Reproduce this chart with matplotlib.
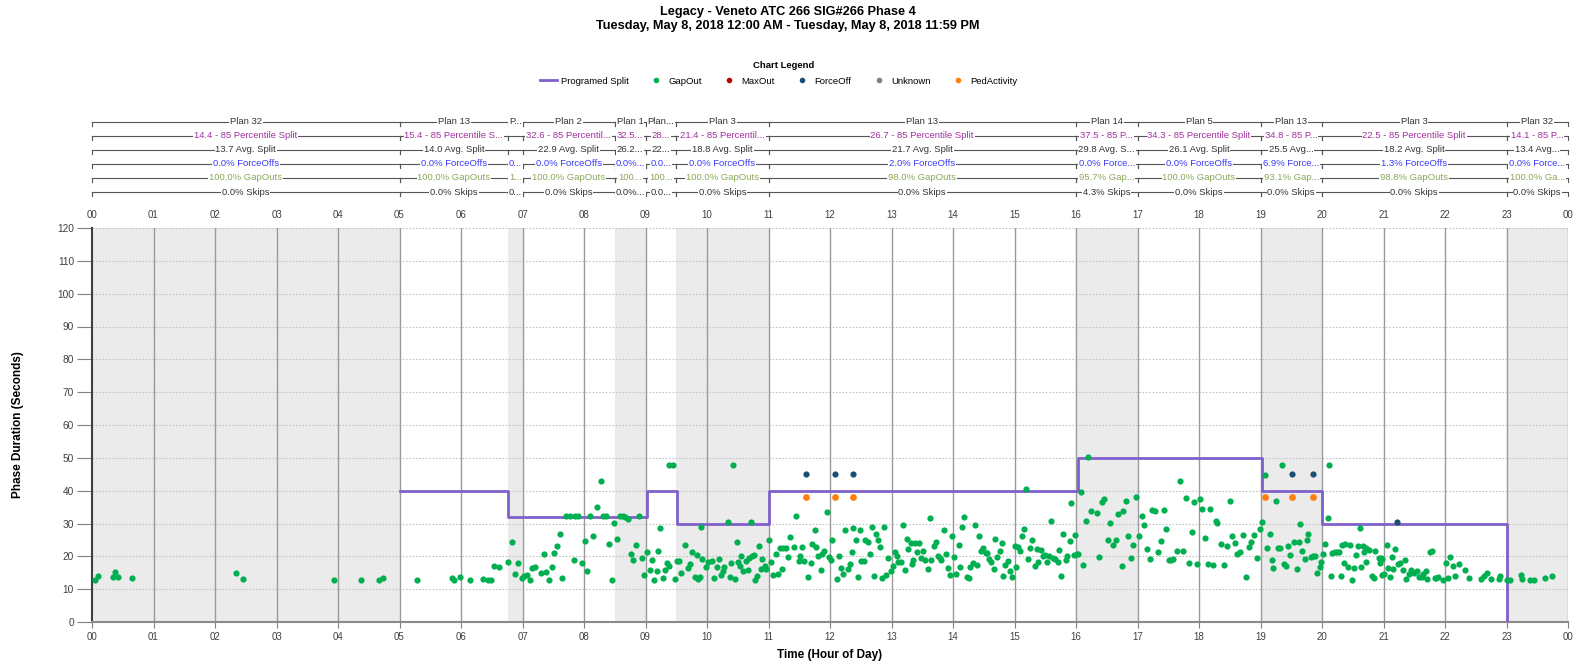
import numpy as np
import matplotlib
matplotlib.use('Agg')
import matplotlib.pyplot as plt
from matplotlib.lines import Line2D
from matplotlib.transforms import blended_transform_factory

plt.rcParams['font.family'] = ['Liberation Sans', 'DejaVu Sans']

# programmed split steps (hour, seconds)
split_t = [5.0, 6.77, 9.02, 9.51, 11.0, 16.03, 19.03, 20.0, 23.0]
split_v = [40, 32, 40, 30, 40, 50, 40, 30, 0]

# gap outs, overnight / early morning
gap_t_early = [0.05, 0.10, 0.34, 0.38, 0.43, 0.65, 2.34, 2.46, 3.93, 4.38, 4.66, 4.73, 5.28,
               5.85, 5.88, 5.98, 6.14, 6.35, 6.44, 6.48, 6.54, 6.61, 6.77, 6.83, 6.88, 6.93, 6.99]
gap_v_early = [12.9, 14.1, 13.6, 15.1, 13.6, 13.4, 15.0, 13.0, 12.9, 12.9, 12.9, 13.5, 12.9,
               13.5, 12.8, 13.6, 12.8, 13.2, 12.9, 12.8, 17.2, 16.8, 18.3, 24.4, 14.6, 17.9, 13.5]

# gap outs 07-10
gap_t_am = [7.03, 7.08, 7.12, 7.16, 7.21, 7.30, 7.35, 7.39, 7.43, 7.48, 7.52, 7.56, 7.61, 7.65,
            7.70, 7.78, 7.83, 7.86, 7.91, 7.96, 8.01, 8.05, 8.09, 8.14, 8.21, 8.27, 8.31, 8.35,
            8.40, 8.45, 8.49, 8.54, 8.58, 8.63, 8.66, 8.71, 8.76, 8.80, 8.85, 8.89, 8.94, 8.98,
            9.03, 9.07, 9.11, 9.14, 9.18, 9.21, 9.24, 9.28, 9.31, 9.35, 9.38, 9.39, 9.44, 9.48,
            9.51, 9.54, 9.58, 9.64, 9.69, 9.72, 9.75, 9.81, 9.84, 9.86, 9.89, 9.91, 9.92, 9.98]
gap_v_am = [13.9, 14.3, 12.8, 16.4, 16.8, 14.9, 20.8, 15.2, 12.8, 16.9, 21.1, 23.2, 26.9, 13.4,
            32.4, 32.4, 18.8, 32.4, 32.4, 17.9, 24.6, 15.6, 32.4, 26.3, 35.0, 42.8, 32.4, 32.4,
            23.7, 12.9, 30.1, 25.2, 32.4, 32.4, 32.1, 31.4, 20.6, 18.9, 23.3, 32.4, 19.4, 14.3,
            21.2, 15.7, 19.0, 12.8, 15.6, 21.6, 28.6, 13.5, 15.9, 18.1, 17.1, 47.8, 47.8, 13.0,
            18.5, 18.5, 14.8, 23.3, 16.3, 17.6, 21.3, 13.8, 20.5, 13.0, 13.7, 29.0, 19.3, 16.6]

# gap outs 10-13
gap_t_mid = [10.02, 10.08, 10.12, 10.16, 10.20, 10.22, 10.26, 10.28, 10.34, 10.37, 10.39, 10.42,
             10.45, 10.48, 10.51, 10.54, 10.56, 10.59, 10.63, 10.66, 10.69, 10.72, 10.73, 10.76,
             10.78, 10.82, 10.84, 10.88, 10.89, 10.94, 10.96, 11.00, 11.04, 11.08, 11.12, 11.15,
             11.18, 11.22, 11.24, 11.28, 11.31, 11.35, 11.42, 11.44, 11.49, 11.51, 11.55, 11.58,
             11.65, 11.69, 11.71, 11.75, 11.77, 11.81, 11.85, 11.87, 11.91, 11.95, 11.98, 12.02,
             12.04, 12.12, 12.15, 12.18, 12.21, 12.25, 12.29, 12.32, 12.35, 12.38, 12.42, 12.45,
             12.48, 12.51, 12.55, 12.57, 12.61, 12.65, 12.69, 12.72, 12.75, 12.78, 12.81, 12.84,
             12.88, 12.91, 12.95, 12.99, 13.02, 13.05, 13.09, 13.11, 13.15, 13.18, 13.22, 13.25,
             13.27, 13.32]
gap_v_mid = [18.2, 18.6, 13.4, 16.8, 19.3, 14.3, 15.6, 16.6, 30.4, 13.8, 18.1, 47.8,
             13.0, 24.5, 18.3, 17.1, 20.0, 15.4, 18.6, 15.9, 19.6, 30.4, 20.2, 20.5,
             12.8, 14.1, 23.1, 16.0, 19.3, 17.2, 16.1, 24.9, 18.4, 14.3, 20.8, 14.7,
             22.6, 16.1, 22.5, 22.5, 19.9, 25.8, 22.8, 32.3, 18.6, 20.0, 22.8, 18.6,
             13.8, 17.9, 23.8, 28.0, 22.8, 20.2, 15.9, 20.8, 21.5, 33.6, 19.8, 18.8,
             24.9, 13.0, 20.0, 16.4, 14.5, 28.0, 16.1, 17.6, 21.3, 28.7, 25.1, 13.8,
             28.0, 18.6, 18.6, 25.1, 24.4, 20.7, 29.0, 14.1, 26.8, 24.9, 22.8, 13.3,
             29.0, 14.3, 19.5, 15.4, 17.1, 21.4, 20.0, 18.4, 18.2, 29.5, 15.9, 25.4,
             22.3, 24.1]

# gap outs 13-17
gap_t_pm = [13.33, 13.35, 13.39, 13.42, 13.45, 13.48, 13.52, 13.55, 13.59, 13.62, 13.65, 13.69,
            13.72, 13.75, 13.79, 13.81, 13.85, 13.89, 13.92, 13.95, 13.99, 14.02, 14.05, 14.09,
            14.12, 14.15, 14.18, 14.22, 14.26, 14.28, 14.32, 14.35, 14.39, 14.42, 14.45, 14.48,
            14.53, 14.55, 14.59, 14.61, 14.66, 14.69, 14.72, 14.76, 14.79, 14.82, 14.85, 14.89,
            14.92, 14.96, 15.00, 15.03, 15.05, 15.09, 15.12, 15.16, 15.18, 15.22, 15.26, 15.29,
            15.33, 15.36, 15.39, 15.43, 15.46, 15.49, 15.53, 15.56, 15.59, 15.62, 15.66, 15.70,
            15.73, 15.76, 15.79, 15.83, 15.86, 15.90, 15.92, 15.96, 15.99, 16.01, 16.03, 16.08,
            16.11, 16.16, 16.20, 16.24, 16.34, 16.38, 16.42, 16.46, 16.52, 16.55, 16.60, 16.65,
            16.69, 16.74, 16.76, 16.81, 16.85, 16.90, 16.93, 16.98]
gap_v_pm = [17.6, 19.0, 24.0, 21.3, 24.0, 19.5, 21.7, 18.9, 16.2, 31.8, 18.9, 23.0,
            24.4, 20.1, 19.5, 18.9, 27.9, 20.7, 16.4, 14.3, 26.3, 19.7, 14.7, 23.3,
            16.7, 28.9, 32.1, 13.6, 13.5, 16.9, 17.9, 29.5, 17.4, 26.1, 21.7, 22.5,
            21.0, 21.0, 19.3, 18.2, 16.2, 25.3, 19.9, 21.5, 24.1, 14.0, 17.4, 18.6,
            15.6, 13.8, 23.1, 16.6, 22.8, 21.7, 26.2, 28.4, 40.5, 19.2, 22.4, 24.9,
            17.1, 22.3, 18.2, 22.0, 20.0, 20.5, 18.2, 20.0, 30.9, 19.5, 19.3, 18.2,
            22.0, 14.1, 26.8, 18.8, 20.2, 24.8, 36.1, 20.5, 26.6, 20.8, 20.8, 39.7,
            17.4, 30.7, 50.4, 33.8, 33.1, 19.9, 36.7, 37.4, 25.1, 30.2, 23.6, 25.1,
            32.8, 17.1, 33.8, 36.9, 26.1, 19.5, 23.6, 38.1]

# gap outs 17-20
gap_t_eve = [17.03, 17.07, 17.11, 17.16, 17.21, 17.24, 17.29, 17.34, 17.39, 17.43, 17.47, 17.51,
             17.55, 17.58, 17.65, 17.69, 17.74, 17.79, 17.83, 17.88, 17.92, 17.96, 18.01, 18.05,
             18.09, 18.14, 18.18, 18.23, 18.27, 18.30, 18.36, 18.41, 18.45, 18.50, 18.54, 18.58,
             18.62, 18.67, 18.72, 18.76, 18.81, 18.85, 18.90, 18.95, 18.99, 19.03, 19.07, 19.11,
             19.15, 19.18, 19.21, 19.26, 19.28, 19.32, 19.35, 19.39, 19.41, 19.45, 19.48, 19.54,
             19.59, 19.62, 19.65, 19.68, 19.72, 19.75, 19.78, 19.82, 19.85, 19.89, 19.92, 19.96,
             19.98, 20.02, 20.05, 20.09, 20.11, 20.15, 20.17]
gap_v_eve = [26.3, 32.2, 29.5, 22.2, 19.1, 34.1, 33.8, 21.2, 24.6, 34.1, 28.4, 19.0,
             18.8, 19.3, 21.5, 42.9, 21.5, 37.7, 17.9, 27.4, 36.4, 17.7, 37.4, 34.3,
             25.6, 17.7, 34.3, 17.3, 30.9, 30.3, 23.8, 17.3, 23.2, 36.8, 26.1, 24.1,
             20.8, 21.3, 26.5, 13.6, 22.7, 24.4, 26.6, 19.4, 28.2, 30.4, 44.9, 22.5,
             26.9, 19.0, 16.4, 37.0, 22.6, 22.4, 47.8, 17.7, 17.0, 23.0, 20.5, 24.3,
             16.1, 24.4, 29.7, 21.7, 19.3, 24.9, 26.8, 19.8, 20.0, 20.0, 15.0, 16.9,
             18.2, 20.8, 23.8, 31.6, 47.8, 14.1, 21.0]

# gap outs 20-24
gap_t_late = [20.21, 20.24, 20.27, 20.31, 20.32, 20.35, 20.38, 20.43, 20.45, 20.49, 20.52, 20.55,
              20.58, 20.61, 20.63, 20.66, 20.69, 20.71, 20.72, 20.77, 20.81, 20.84, 20.86, 20.92,
              20.94, 20.96, 20.97, 20.98, 21.01, 21.05, 21.08, 21.10, 21.14, 21.16, 21.19, 21.24,
              21.27, 21.31, 21.35, 21.37, 21.42, 21.45, 21.50, 21.54, 21.58, 21.62, 21.64, 21.69,
              21.71, 21.76, 21.79, 21.83, 21.86, 21.89, 21.97, 22.01, 22.05, 22.08, 22.13, 22.16,
              22.22, 22.32, 22.39, 22.58, 22.63, 22.68, 22.74, 22.88, 22.90, 23.01, 23.06, 23.23,
              23.26, 23.39, 23.44, 23.63, 23.74]
gap_v_late = [21.2, 21.2, 21.2, 14.0, 23.3, 18.1, 23.8, 16.9, 23.3, 12.8, 16.4, 20.5,
              23.0, 28.7, 16.6, 23.0, 21.2, 22.5, 18.2, 21.9, 14.0, 13.5, 21.5, 19.5,
              17.9, 19.5, 14.3, 19.2, 14.7, 23.6, 16.4, 13.8, 19.7, 16.2, 22.3, 17.7,
              18.0, 15.9, 18.8, 13.1, 14.7, 15.9, 14.9, 15.6, 13.6, 13.6, 14.7, 15.6,
              13.2, 21.2, 21.5, 13.5, 13.5, 13.7, 12.8, 18.1, 13.3, 19.7, 17.2, 14.1,
              17.7, 15.9, 13.5, 13.0, 14.1, 14.8, 13.0, 13.0, 14.1, 12.8, 12.8, 14.3,
              13.0, 12.8, 12.8, 13.5, 14.0]

force_t = [11.61, 12.08, 12.38, 19.51, 19.85, 21.22]
force_v = [45, 45, 45, 45, 45, 30.4]
ped_t = [11.61, 12.08, 12.38, 19.08, 19.51, 19.85]
ped_v = [38, 38, 38, 38, 38, 38]

# plan table above the chart
plan_start = [0, 5, 6.77, 7.0, 8.5, 9.0, 9.5, 11, 16, 17, 19, 20, 23]
plan_end = plan_start[1:] + [24]
plan_names = ['Plan 32', 'Plan 13', 'P...', 'Plan 2', 'Plan 1', 'Plan...', 'Plan 3', 'Plan 13',
              'Plan 14', 'Plan 5', 'Plan 13', 'Plan 3', 'Plan 32']
pct85 = ['14.4 - 85 Percentile Split', '15.4 - 85 Percentile S...', '', '32.6 - 85 Percentil...',
         '32.5...', '28...', '21.4 - 85 Percentil...', '26.7 - 85 Percentile Split',
         '37.5 - 85 P...', '34.3 - 85 Percentile Split', '34.8 - 85 P...',
         '22.5 - 85 Percentile Split', '14.1 - 85 P...']
avg_split = ['13.7 Avg. Split', '14.0 Avg. Split', '', '22.9 Avg. Split', '26.2...', '22...',
             '18.8 Avg. Split', '21.7 Avg. Split', '29.8 Avg. S...', '26.1 Avg. Split',
             '25.5 Avg...', '18.2 Avg. Split', '13.4 Avg...']
force_pct = ['0.0% ForceOffs', '0.0% ForceOffs', '0...', '0.0% ForceOffs', '0.0%...', '0.0...',
             '0.0% ForceOffs', '2.0% ForceOffs', '0.0% Force...', '0.0% ForceOffs',
             '6.9% Force...', '1.3% ForceOffs', '0.0% Force...']
gap_pct = ['100.0% GapOuts', '100.0% GapOuts', '1...', '100.0% GapOuts', '100...', '100...',
           '100.0% GapOuts', '98.0% GapOuts', '95.7% Gap...', '100.0% GapOuts', '93.1% Gap...',
           '98.8% GapOuts', '100.0% Ga...']
skip_pct = ['0.0% Skips', '0.0% Skips', '0...', '0.0% Skips', '0.0%...', '0.0...', '0.0% Skips',
            '0.0% Skips', '4.3% Skips', '0.0% Skips', '0.0% Skips', '0.0% Skips', '0.0% Skips']

hour_labels = ['%02d' % h for h in range(24)] + ['00']

W, H = 1576, 663
fig = plt.figure(figsize=(W / 100, H / 100), dpi=100)
ax = fig.add_axes([92 / W, 1 - 622 / H, (1568 - 92) / W, (622 - 228) / H])

# alternate plan shading
for i, (s, e) in enumerate(zip(plan_start, plan_end)):
    if i % 2 == 0:
        ax.axvspan(s, e, color='#ebebeb', lw=0, zorder=0)

for y in range(10, 121, 10):
    ax.axhline(y, color='#c4c4c4', lw=0.8, ls=(0, (1.5, 1.5)), zorder=1)
for h in range(1, 25):
    ax.axvline(h, color='#9a9a9a', lw=1, zorder=1)

ax.step(split_t, split_v, where='post', color='#8060cc', lw=2, zorder=3)

gap_t = gap_t_early + gap_t_am + gap_t_mid + gap_t_pm + gap_t_eve + gap_t_late
gap_v = gap_v_early + gap_v_am + gap_v_mid + gap_v_pm + gap_v_eve + gap_v_late
ax.scatter(gap_t, gap_v, s=20, color='#00b050', lw=0, zorder=4)
ax.scatter(force_t, force_v, s=20, color='#1b4f72', lw=0, zorder=4)
ax.scatter(ped_t, ped_v, s=24, color='#ff7f0e', lw=0, zorder=4)

ax.set_xlim(0, 24)
ax.set_ylim(0, 120)
ax.set_xticks(range(25))
ax.set_xticklabels(hour_labels)
ax.set_yticks(range(0, 121, 10))
ax.tick_params(axis='x', length=4, color='#808080', labelsize=7, labelcolor='#404040', pad=3)
ax.tick_params(axis='y', length=11, color='#808080', labelsize=7.3, labelcolor='#404040', pad=2)
for side in ['top', 'right']:
    ax.spines[side].set_visible(False)
ax.spines['left'].set_color('#404040')
ax.spines['left'].set_linewidth(1.5)
ax.spines['bottom'].set_color('#8a8a8a')
ax.spines['bottom'].set_linewidth(1.5)

top = ax.secondary_xaxis('top')
top.set_xticks(range(25))
top.set_xticklabels(hour_labels)
top.tick_params(length=0, labelsize=7, labelcolor='#404040', pad=6)
top.spines['top'].set_visible(False)

ax.set_xlabel('Time (Hour of Day)', fontsize=8.5, fontweight='bold')
ax.set_ylabel('Phase Duration (Seconds)', fontsize=8.5, fontweight='bold')
ax.xaxis.set_label_coords(0.5, -(649 - 622) / (622 - 228))
ax.yaxis.set_label_coords(-(92 - 24) / (1568 - 92), 0.5)

# plan table rows
tr = blended_transform_factory(ax.transData, fig.transFigure)
rows = [plan_names, pct85, avg_split, force_pct, gap_pct, skip_pct]
row_colors = ['#333333', '#a0309c', '#333333', '#3b3bf5', '#8aa858', '#333333']
row_px = [122, 136, 150, 164, 178, 192]
tick = 4 / H
for labels, col, py in zip(rows, row_colors, row_px):
    y = 1 - py / H
    for s, e, lab in zip(plan_start, plan_end, labels):
        ax.plot([s, e], [y, y], color='#555555', lw=0.8, transform=tr, clip_on=False)
        ax.plot([s, s], [y, y - tick], color='#555555', lw=0.8, transform=tr, clip_on=False)
        ax.plot([e, e], [y, y - tick], color='#555555', lw=0.8, transform=tr, clip_on=False)
        if lab:
            ax.text((s + e) / 2, y, lab, transform=tr, ha='center', va='center', fontsize=6.8,
                    color=col, clip_on=False,
                    bbox=dict(facecolor='white', edgecolor='none', pad=0.6))

fig.text(0.5, 1 - 12 / H, 'Legacy - Veneto ATC 266 SIG#266 Phase 4', ha='center', va='center',
         fontsize=9.2, fontweight='bold')
fig.text(0.5, 1 - 26 / H, 'Tuesday, May 8, 2018 12:00 AM - Tuesday, May 8, 2018 11:59 PM',
         ha='center', va='center', fontsize=9.2, fontweight='bold')
fig.text(0.497, 1 - 66 / H, 'Chart Legend', ha='center', va='center', fontsize=6.8,
         fontweight='bold')

handles = [Line2D([], [], color='#8060cc', lw=2),
           Line2D([], [], ls='none', marker='o', ms=3, color='#00b050'),
           Line2D([], [], ls='none', marker='o', ms=3, color='#c00000'),
           Line2D([], [], ls='none', marker='o', ms=3, color='#1b4f72'),
           Line2D([], [], ls='none', marker='o', ms=3, color='#808080'),
           Line2D([], [], ls='none', marker='o', ms=3, color='#ff7f0e')]
names = ['Programed Split', 'GapOut', 'MaxOut', 'ForceOff', 'Unknown', 'PedActivity']
fig.legend(handles, names, loc='center', bbox_to_anchor=(0.494, 1 - 81 / H), ncol=6,
           frameon=False, fontsize=6.8, handlelength=1.8, handletextpad=0.4, columnspacing=2.0)

fig.savefig('out.png', dpi=100)
